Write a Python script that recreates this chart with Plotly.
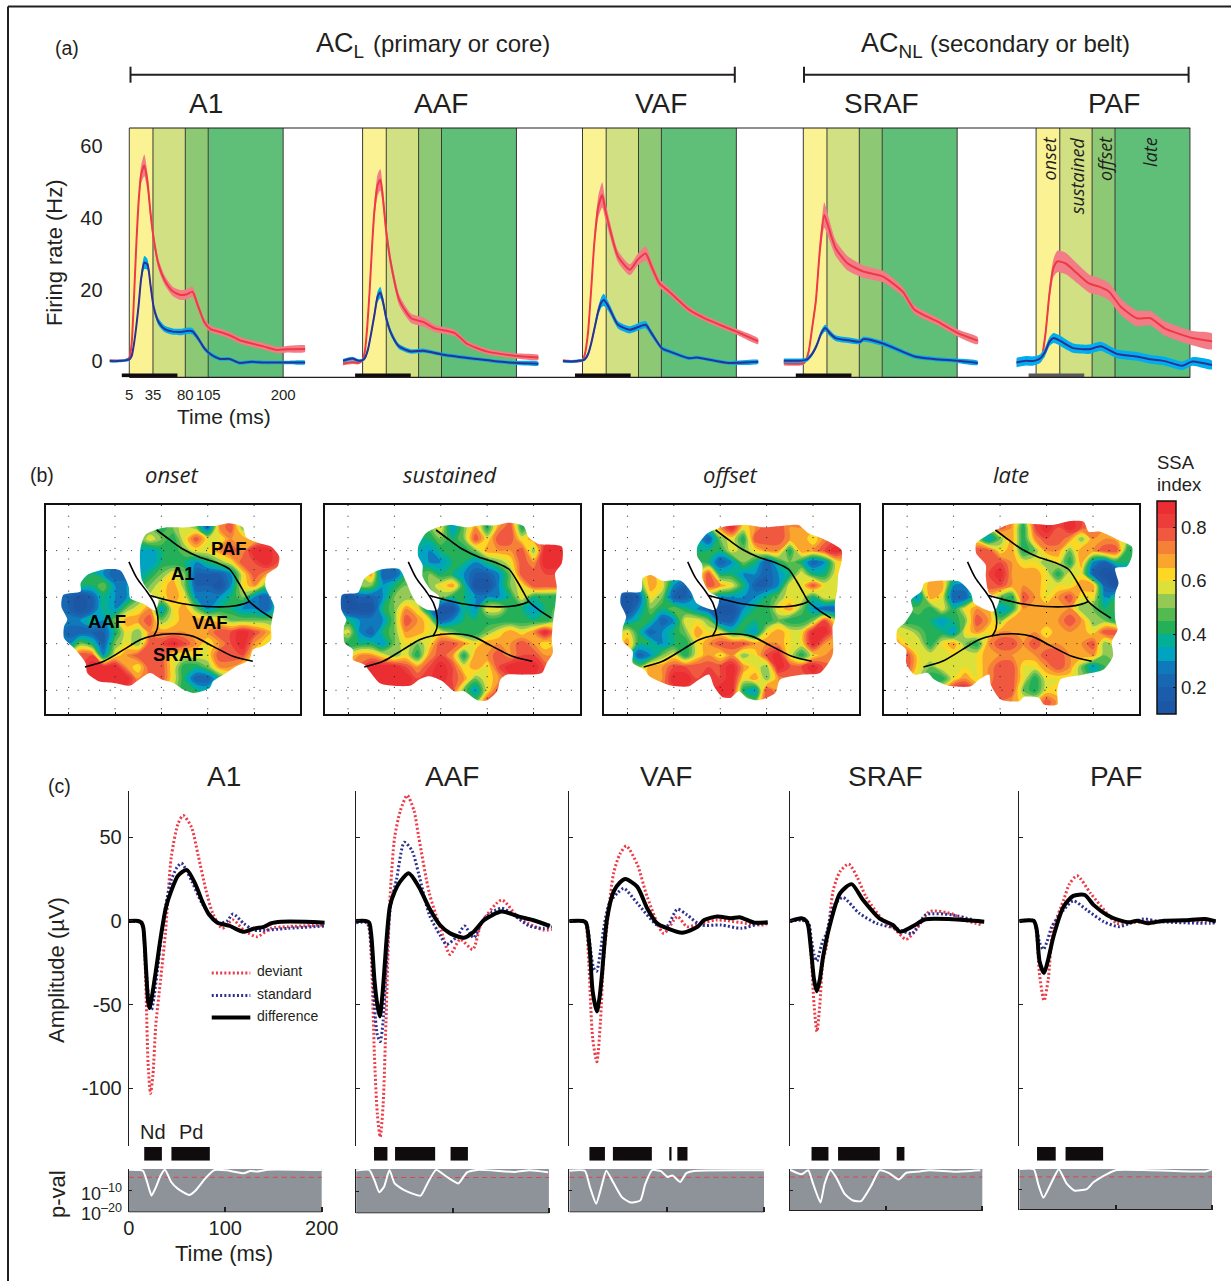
import numpy as np
import plotly.graph_objects as go

W, H = 1231, 1281
def px(x): return x / W
def py(y): return 1 - y / H

INK = "#231f20"
SANS = "Liberation Sans, Arial, sans-serif"
ITAL = "Open Sans, sans-serif"

# ---------- (a) firing rates: time (ms), value (Hz), half width of shading ----------
PANEL_A_NAMES = ["A1", "AAF", "VAF", "SRAF", "PAF"]
EPOCH_EDGES = [5, 35, 76, 105, 200]
EPOCH_NAMES = ["onset", "sustained", "offset", "late"]
EPOCH_TICKS = ["5", "35", "80", "105", "200"]
STIM_WINDOW = [-4.5, 66]

A1_DEV_T = [-20,-10,0,5,8,11,14,17,20,24,28,32,36,42,50,60,70,78,85,92,100,108,120,132,145,160,175,192,205,228]
A1_DEV_V = [.3,.2,.4,1,5,18,33,45,52,54.5,50,41,34,27,22.5,19.5,18.5,18.7,19.4,15.5,11,9,8.2,7.3,5.9,5,4.2,3.2,3.4,3.5]
A1_DEV_E = [.3,.3,.3,.3,.6,1,1.5,2,2.5,3,2.5,2,1.6,1.4,1.3,1.3,1.4,1.4,1.4,1.2,1,.9,.9,.9,.9,.9,.9,.9,.9,.9]
A1_STD_T = A1_DEV_T
A1_STD_V = [.1,.1,.3,.6,1.5,5,10,16,23,27.5,27,21,15,11,9,8.3,8.2,8.5,8.4,6.5,3.7,2,.7,.7,-.4,-.1,-.3,-.3,-.3,-.3]
A1_STD_E = [.4,.4,.4,.4,.4,.6,.9,1.2,1.5,1.8,1.5,1.2,1,1,.9,.9,.9,.9,.9,.8,.7,.6,.5,.5,.5,.5,.5,.5,.5,.5]

AAF_DEV_T = [-20,-8,0,5,8,11,14,17,20,24,27.5,31,35,41.6,51.6,66.6,81.6,96.6,121.7,136.8,162,197,228]
AAF_DEV_V = [-.6,-.2,-.4,.5,3,10,20,32,42,49,50.5,45,36,26.4,17,12,11,9.2,7.9,5,2.8,1.6,1.1]
AAF_DEV_E = [.5,.5,.4,.4,.6,1,1.5,2,2.5,3,3,2.5,2,1.7,1.5,1.3,1.3,1,.9,.8,.8,.7,.7]
AAF_STD_T = [-20,-8,0,5,8,12,16,20,24,27.5,31,35,41,51,66,82,107,149,190,228]
AAF_STD_V = [.2,.8,.2,.4,1,3.5,8,13,18,19.2,16.5,12,7.9,4.2,2.8,3,1.9,.7,-.3,-.6]
AAF_STD_E = [.5,.5,.4,.4,.5,.7,1,1.2,1.5,1.6,1.4,1.1,.9,.7,.6,.6,.5,.5,.5,.5]

VAF_DEV_T = [-20,-8,0,5,8,12,16,20,25,30,34,40,50,65,75,85,92.5,102.6,115,140,160,200,228]
VAF_DEV_V = [.2,0,.1,.4,2,8,20,33,43,46.3,42,36.6,29.2,25.5,28.3,30,26.4,21.7,19.4,14.4,12,8.3,5.6]
VAF_DEV_E = [.4,.4,.4,.4,.6,1,1.5,2,3,3.5,2.5,2,1.6,1.5,1.6,2,1.5,1.2,1,.9,.8,.8,.8]
VAF_STD_T = [-20,-8,0,5,8,12,16,20,25,29,32,36,40,50,65,85,92,105.5,115,140,150,190,228]
VAF_STD_V = [.1,0,.2,.3,.6,2,5,9,14,16.5,17.1,16,14.4,10.2,8.8,10.2,8,3.7,2.8,.9,1.1,-.4,-.1]
VAF_STD_E = [.4,.4,.4,.4,.4,.6,.8,1,1.3,1.5,1.7,1.4,1.2,1,1,1,.9,.6,.6,.5,.5,.5,.5]

SRAF_DEV_T = [-20,-8,0,5,8,12,16,21,26,31.6,36,46,61,81,106,131,146,176,201,226]
SRAF_DEV_V = [-.5,-.6,-.6,-.5,.2,3,9,17,31,40.7,38,31.5,27.3,25,23.6,19.4,14.4,11,7.9,5.8]
SRAF_DEV_E = [.6,.6,.6,.5,.5,.7,1,1.5,2.5,3.5,3,2.2,2,1.7,1.6,1.3,1.2,1,1,1]
SRAF_STD_T = [-20,-8,0,5,10,16,22,28,33,38,46,65,77,81,106,146,170,200,226]
SRAF_STD_V = [.2,.2,.2,.3,.6,2,4.5,8,9.3,8,6.5,5.8,5.5,6.2,5,1.4,.7,.2,-.4]
SRAF_STD_E = [.6,.6,.6,.6,.6,.6,.7,.9,1,.9,.8,.8,.7,.7,.7,.6,.6,.6,.6]

PAF_DEV_T = [-20,-8,0,5,9,12,17,22,27,32,42,57,72,85,97.5,112,132.6,150,168,203,228]
PAF_DEV_V = [-.3,.1,.1,.2,.3,1,7.9,19,26,27.8,27.3,24.5,21.7,20.8,19.4,15.3,12,12,9.2,6.5,5.6]
PAF_DEV_E = [1,1,1,.9,.8,1,1.5,2,2.5,3,3,2.7,2.5,2.4,2.4,2.3,2.2,2,2,2,2.2]
PAF_STD_T = [-20,-8,0,5,10,16,22,27,35,52,72,87,107.5,132.6,150,168,190,203,228]
PAF_STD_V = [-.3,.2,.1,.3,.8,2.5,5.5,6.5,5.8,3.7,3.4,4.2,2.1,1.4,.6,.1,-1.2,0,-1]
PAF_STD_E = [1.3,1.3,1.3,1.2,1.2,1.2,1.3,1.4,1.4,1.3,1.3,1.3,1.2,1.2,1.2,1.2,1.2,1.2,1.2]

# ---------- (b) SSA maps: one digit per grid node = index x 10, "." = off the cortex ----------
ONSET = [
".........45652785....",
"........6546866776...",
"........344566787998.",
"........344434568898.",
"...4322.45652223687..",
"..44533.56752213675..",
".212433..6763334532..",
".212435673675344332..",
".334357785677765555..",
".222246577777788987..",
".354256588987678976..",
"..8836788866668886...",
"...99976886445776....",
"....9997.864224......",
"...........44........",
".....................",
]
SUSTAINED = [
".........63574784....",
"........4545868867...",
"........344457778599.",
"........334434568799.",
"...7224.544322358888.",
"..55345.567411356888.",
".122355..54433346444.",
".111457631143664434..",
".433358762344444444..",
".632457766544567679..",
".444356568876777876..",
"..77656478747787887..",
"...999878986768999...",
"....9998.987567......",
"..........85368......",
"............58.......",
]
OFFSET = [
".........79678877....",
"........2564888776...",
".......4446567747789.",
"........423542454236.",
"...7....844332346446.",
"...7632.876422366866.",
".126522..33334566466.",
".1354543211344675322.",
".344236652244454458..",
".642345766443676699..",
".744344678887776697..",
"..23564676756896467..",
"...778888897659889...",
"....7998.896757......",
".........994387......",
"............58.......",
]
LATE = [
".........87489898....",
"........35747887577..",
".......88674577577884",
"........8876656473244",
"........897776466211.",
"...7733.887776667721.",
"..37622..54876786634.",
"..546467734777775544.",
".4443458757777787554.",
"66544367677776777688.",
"7664675478878777785..",
".866666677777887775..",
".86566667886678753...",
"...44676.886466......",
".....99..88546.......",
"..........7..8.......",
]
MAP_NAMES = ["onset", "sustained", "offset", "late"]

ONSET_EDGE_X = [345,375,410,470,505,555,600,640,650,690,725,750,745,712,708,735,730,725,725,700,670,660,620,590,550,540,490,460,430,395,360,320,300,250,205,170,165,135,100,100,110,92,98,150,150,170,225,270,295,300,340,375,385,360,335,330]
ONSET_EDGE_Y = [255,240,232,232,228,228,220,232,262,280,290,320,350,375,410,470,500,530,570,590,600,630,650,670,695,715,730,720,700,690,670,695,708,700,695,670,640,600,565,530,510,470,435,425,400,375,358,362,410,445,462,482,450,430,390,300]
SUSTAINED_EDGE_X = [322,345,380,420,470,510,555,595,640,655,685,755,755,735,740,735,730,725,728,710,695,640,590,570,560,530,500,460,430,395,355,325,300,240,205,175,160,125,125,100,98,105,90,92,140,160,205,265,285,300,318,350,380,385,360,335,335,322]
SUSTAINED_EDGE_Y = [290,250,232,225,232,226,226,218,228,262,282,290,340,370,410,470,505,570,610,640,670,675,675,690,725,752,752,725,725,695,680,690,708,708,700,665,645,630,600,580,530,510,480,435,428,385,360,358,395,430,460,480,480,440,420,380,345,320]
OFFSET_EDGE_X = [320,350,400,470,520,570,625,655,695,735,755,755,745,742,735,735,728,728,690,640,570,555,505,470,445,420,395,370,355,325,295,240,175,160,125,125,95,95,105,88,92,150,155,180,215,270,300,318,375,385,355,335,335,320]
OFFSET_EDGE_Y = [290,250,230,225,232,228,225,250,265,285,300,335,375,420,460,510,530,615,670,675,690,730,752,745,725,745,742,710,675,690,710,708,680,660,640,605,575,535,500,460,430,425,385,375,393,393,425,460,480,445,425,385,345,320]
LATE_EDGE_X = [316,340,380,420,490,545,600,640,655,690,745,785,785,770,735,745,735,735,742,725,728,700,640,570,560,560,520,505,460,445,390,360,355,325,300,230,190,170,130,105,105,78,78,100,125,120,150,160,215,265,300,310,370,385,355,345,345,316]
LATE_EDGE_Y = [280,262,238,222,222,225,213,215,245,245,270,290,320,350,355,400,430,510,540,575,620,660,675,690,725,765,765,745,742,755,750,705,675,690,710,708,690,670,675,640,600,575,540,520,480,450,425,400,392,395,430,460,485,445,430,380,345,310]

BORDER_A_X = [380,420,460,510,560,600,625,645,660,690,728]
BORDER_A_Y = [240,270,298,322,338,358,395,430,455,480,505]
BORDER_B_X = [360,400,460,530,600,640,660]
BORDER_B_Y = [437,448,462,470,470,463,455]
BORDER_C_X = [296,320,350,372,383,382,370]
BORDER_C_Y = [336,385,425,460,500,535,560]
BORDER_D_X = [163,220,280,330,370,430,490,550,610,670]
BORDER_D_Y = [652,635,600,570,558,552,560,590,620,635]
FIELD_LABELS = ["PAF", "A1", "AAF", "VAF", "SRAF"]
FIELD_LABEL_X = [597,460,230,540,443]
FIELD_LABEL_Y = [295,372,515,517,615]

COLORBAR_TICKS = [0.2, 0.4, 0.6, 0.8]

# ---------- (c) evoked potentials ----------
A1_ERP_DEV_T = [0,10,14,16,18,20,22.5,25,28,33,38,44,51,56.4,65,72,80,87,97,108,119,133,147,165,203]
A1_ERP_DEV_V = [0,0,-1,-12,-45,-85,-103,-92,-62,-35,-7,38,58,63,56,39,18.5,4.6,-4.4,.6,-5.4,-9.4,-4.4,-3.4,-2.4]
A1_ERP_STD_T = [0,10,14,16,18,21,23.6,26,30,34,38.5,44,50,54.6,65,76,92,102,108,119,130,165,203]
A1_ERP_STD_V = [0,-.5,-2,-12,-30,-47,-53,-46,-28,-8,10,24.5,32,34.5,24,10.5,-1.4,0,4.2,-1.4,-5.4,-4.4,-3]
A1_ERP_DIF_T = [0,10,13,15,18,20,21.4,24,28,33,38.5,44,51,60,69,76,83,92,105,112,119,130,140,147,158,183,203]
A1_ERP_DIF_V = [0,0,-1,-4,-30,-48,-52,-45,-30,-10,8,18,27,30.5,22,12,4,-1,-3,-5,-6.5,-4.5,-3.5,-1.5,-.5,-.5,-1]

AAF_ERP_DEV_T = [0,10,13,16,19,22,25,28,31,35,40,46,53,60,65,76,87,97.5,108,121,130,151,169,195,203]
AAF_ERP_DEV_V = [0,-.5,-3,-25,-80,-115,-129,-110,-60,12,50,66,75,66,50,16.5,-3.4,-20,-11,-17,-1.4,12.5,1.6,-5.4,-5]
AAF_ERP_STD_T = [0,10,13,16,19,22,25,28,31,36,42,50,58,65,76,87,94,105,112.5,122,133,151,180,195,203]
AAF_ERP_STD_V = [-1,-1,-3,-18,-50,-68,-72,-60,-30,10,25,47,42,28,3.6,-8.4,-14,-9,-3,-10,1.6,7.6,-3,-4.4,-3.4]
AAF_ERP_DIF_T = [0,10,13.6,16,19,22,24.6,27,29.6,32,35,40,45.7,54.6,65,76,87,97.5,112,122,133,151,169,183,201]
AAF_ERP_DIF_V = [0,0,-1,-10,-35,-50,-57,-46,-27,-8,8.6,17.5,23.5,28.5,20.5,7.6,-2.4,-7.4,-10,-6.4,.6,5.6,2.6,.6,-3]

VAF_ERP_DEV_T = [0,14,17,20,24,28.3,32,35,38.6,45.5,52,58.6,70,80,97,111,121,135,152,197,204]
VAF_ERP_DEV_V = [0,0,-2,-25,-70,-84,-60,-25,-3.4,28.5,40,44.8,33.5,14.5,-7.4,2.6,-3.4,-1.4,.6,-2.4,-1.5]
VAF_ERP_STD_T = [0,14,18,22,25,28,32,36,41,50,56,70,90,100,111,121,135,156,177,197,204]
VAF_ERP_STD_V = [0,0,-2,-18,-28,-30,-18,-2,10.5,17,19.5,10.5,-2.4,-3.4,7,3.6,-2.4,-2.4,-4.4,-1.4,-1.5]
VAF_ERP_DIF_T = [0,14,17.2,21,24,28.3,31,33.4,38.6,45.5,52,57.6,69.7,80,90,100.7,116,132,138.6,152,166,175,190,204]
VAF_ERP_DIF_V = [0,0,-1,-17,-42,-54,-46,-33,.6,17.5,23,25,20.5,7.6,-1.4,-4.4,-7,-3.4,.6,2.6,1.6,2.2,-1,-.8]

SRAF_ERP_DEV_T = [0,12,19,22,25,28,31,34,38,45,52,61,70,79,96.5,110,120.7,131,145,169,179,200]
SRAF_ERP_DEV_V = [0,.5,-1,-20,-50,-66,-50,-25,-15,18.5,29.5,34,26,14.5,.6,-5.4,-11,-5.4,5.6,4.2,1,-2.4]
SRAF_ERP_STD_T = [0,12,19,22,25,28,31,34,38,45,55,72,90,110,127,141,169,200]
SRAF_ERP_STD_V = [0,.5,-1,-10,-20,-24,-18,-12,-7.4,8.6,14,4.6,-1.4,-4.4,-7.4,3.6,3.6,-1]
SRAF_ERP_DIF_T = [0,12,17,19,22,25,28,31,34.5,41,52,64,76,93,107,114.5,127,141,169,202]
SRAF_ERP_DIF_V = [0,1.6,0,-3,-18,-35,-42,-35,-21,-3.4,16.5,22,12.5,1.6,-2.4,-6.4,-3.4,1,1,-.4]

PAF_ERP_DEV_T = [0,15,18,21,25.7,30,35,46,52,60,74,91,101,111,150,204]
PAF_ERP_DEV_V = [0,0,-8,-32,-47.6,-35,-5.4,12.5,22,27,16.5,4.6,-1.4,-1,0,0]
PAF_ERP_STD_T = [0,15,18,21,25,29,33.7,46,56,70,87.5,103,115,129,146,198,204]
PAF_ERP_STD_V = [0,0,-4,-13,-17,-12,-3.4,6.6,12,6.6,-.4,-3.4,-1.4,1.2,-.4,-1.4,-1]
PAF_ERP_DIF_T = [0,15,18,21,25.7,30,35.4,46,56,68,77,91,101,115,122,133,150,171,193,204]
PAF_ERP_DIF_V = [0,0,-5,-24,-31,-23,-9.4,8.6,15,15.5,9.6,3.6,1,-.8,.2,-1.4,.2,.4,1.2,-.2]

A1_SIG_START = [16, 44.2];                AAF_SIG_START = [18.6, 40.4, 98]
A1_SIG_END = [34.3, 84];                  AAF_SIG_END = [32.5, 82, 116]
VAF_SIG_START = [20.7, 44.8, 103, 111];   SRAF_SIG_START = [22.4, 50, 111]
VAF_SIG_END = [36.6, 84.8, 105, 121.4];   SRAF_SIG_END = [40, 93.4, 119]
PAF_SIG_START = [18.4, 48]
PAF_SIG_END = [37.8, 87]

P_THRESHOLD_EXP = -3.84
A1_P_T = [0,12,15,19,23.6,28,33,37.5,44,51,62.5,69,80,88.6,101,119,126,133,144,200]
A1_P_E = [-.3,-.5,-1,-6,-12.3,-8.5,-3,-.3,-6,-9.2,-12,-10,-4,-.5,-.6,-2,-.9,-1.2,-.3,-.5]
AAF_P_T = [0,13.6,19,24,29,34.6,40,51,67,74,83,94,106,115,126,165,180,199]
AAF_P_E = [-.7,-.4,-5,-10.5,-8,-.5,-6.5,-9.8,-12,-6.5,-.4,-3.5,-6.5,-1.5,-.4,-1.3,-.6,-1.5]
VAF_P_T = [0,16,21,27.6,33.4,38,45.5,54,63,73,78,85,94,101,106,114,120,128,200]
VAF_P_E = [-.8,-.8,-8,-16,-7.5,-.8,-6.5,-13,-15.5,-14.5,-7,-.5,-1,-3.7,-3,-6,-2,-.9,-.6]
SRAF_P_T = [0,12,19,24,31.7,36,42,48,57,65.5,74,84.5,93,103,113,121,135,145,172,198]
SRAF_P_E = [-.4,-2.5,-.6,-7,-16,-7,-.5,-4,-12,-15,-15.3,-8,-.7,-2,-5,-1.8,-1.2,-.6,-1.3,-.6]
PAF_P_T = [0,15,20,25,34,41,49,57,70,77,91,101,129,193,200]
PAF_P_E = [0,-.1,-8,-14,-6,-.1,-7,-10.5,-9.8,-6.5,-2.5,-.5,-.5,-1.2,-.2]

LEGEND_NAMES = ["deviant", "standard", "difference"]
LEGEND_T = [86, 126]
LEGEND_V = [-31, -44.5, -57.7]
PANEL_C_TICKS = [0, 100, 200]
AMP_TICKS = [50, 0, -50, -100]
AMP_LABELS = ["50", "0", "-50", "-100"]

# ---------- styles ----------
RED, BLUE = "#ee3a47", "#2e3192"
RED_BAND, BLUE_BAND = "#f37d86", "#00aeef"
EPOCH_COLORS = ["#fbf393", "#d0e082", "#8dc975", "#5fbe78"]
CS_Z = [.10,.20,.27,.32,.37,.42,.47,.52,.57,.60,.63,.68,.72,.76,.80,.90]
CS_C = ["#1c54a3","#1a5fad","#1174bb","#00a3c4","#00b09b","#1fae5a","#4db84e","#8cc759",
        "#d7df3d","#f7e928","#ffd324","#f9a02f","#f58537","#f26340","#ef4540","#e8262c"]
COLORSCALE = [[(z - .1) / .8, c] for z, c in zip(CS_Z, CS_C)]

fig = go.Figure()
layout = {}
shapes = []
ann = []

def text(x, y, s, size, **kw):
    anchor = kw.pop("xanchor", "center")
    if anchor == "left":
        x -= 2
    d = dict(x=px(x), y=py(y), xref="paper", yref="paper", text=s, showarrow=False,
             xanchor=anchor, yanchor="middle",
             font=dict(family=kw.pop("family", SANS), size=size, color=INK))
    d.update(kw)
    ann.append(d)

def pline(x0, y0, x1, y1, w=1.2, color=INK):
    shapes.append(dict(type="line", xref="paper", yref="paper", x0=px(x0), x1=px(x1),
                       y0=py(y0), y1=py(y1), line=dict(color=color, width=w)))

# ---- outer frame, headers ----
pline(8, 6.5, W, 6.5, 2)
pline(8, 6.5, 8, H, 2)
text(55, 48, "(a)", 19.5, xanchor="left")
text(30, 475, "(b)", 19.5, xanchor="left")
text(48, 786, "(c)", 19.5, xanchor="left")
text(316, 45, "AC<sub>L</sub>", 27, xanchor="left")
text(373, 43.5, "(primary or core)", 24, xanchor="left")
text(861, 45, "AC<sub>NL</sub>", 27, xanchor="left")
text(930, 43.5, "(secondary or belt)", 24, xanchor="left")
for a, b in [(130.5, 734.8), (804, 1188.6)]:
    pline(a, 74.7, b, 74.7, 2)
    pline(a, 66.7, a, 82.7, 2)
    pline(b, 66.7, b, 82.7, 2)

# ---- (a) ----
A_LEFT = [129.3, 362.6, 582.5, 803.3, 1036.1]
A_TITLE_X = [205.6, 440.5, 660.7, 881.3, 1114]
A_SCALE = 0.789
A_TOP, A_BOT = 128, 377.3
A_YR = [-4.4, 64.9]
A_SERIES = [
    (A1_DEV_T, A1_DEV_V, A1_DEV_E, A1_STD_T, A1_STD_V, A1_STD_E),
    (AAF_DEV_T, AAF_DEV_V, AAF_DEV_E, AAF_STD_T, AAF_STD_V, AAF_STD_E),
    (VAF_DEV_T, VAF_DEV_V, VAF_DEV_E, VAF_STD_T, VAF_STD_V, VAF_STD_E),
    (SRAF_DEV_T, SRAF_DEV_V, SRAF_DEV_E, SRAF_STD_T, SRAF_STD_V, SRAF_STD_E),
    (PAF_DEV_T, PAF_DEV_V, PAF_DEV_E, PAF_STD_T, PAF_STD_V, PAF_STD_E),
]
layout["yaxis"] = dict(domain=[py(A_BOT), py(A_TOP)], range=A_YR, anchor="x",
                       tickvals=[0, 20, 40, 60], showgrid=False, zeroline=False, showline=False,
                       ticks="outside", ticklen=2, tickcolor="rgba(0,0,0,0)",
                       tickfont=dict(family=SANS, size=20, color=INK))

def band(t, v, e, color, line, xa, ya):
    t, v, e = list(t), np.array(v, float), np.array(e, float)
    fig.add_trace(go.Scatter(x=t + t[::-1], y=list(v + e) + list((v - e)[::-1]), mode="lines",
                             fill="toself", fillcolor=color, line=dict(width=0, shape="spline", smoothing=.6),
                             hoverinfo="skip", showlegend=False, xaxis=xa, yaxis=ya))
    fig.add_trace(go.Scatter(x=t, y=v, mode="lines", line=dict(color=line, width=2, shape="spline", smoothing=.6),
                             showlegend=False, xaxis=xa, yaxis=ya))

for i, (name, x5, s) in enumerate(zip(PANEL_A_NAMES, A_LEFT, A_SERIES)):
    n = "" if i == 0 else str(i + 1)
    xa = "x" + n
    lo = x5 + (-20 - 5) * A_SCALE
    hi = x5 + (228 - 5) * A_SCALE
    ax = dict(domain=[px(lo), px(hi)], range=[-20, 228], anchor="y", showgrid=False, zeroline=False,
              showline=False, showticklabels=False, ticks="")
    if i == 0:
        ax.update(tickvals=EPOCH_EDGES, ticktext=EPOCH_TICKS, showticklabels=True, ticks="outside", ticklen=4,
                  tickcolor="rgba(0,0,0,0)", tickfont=dict(family=SANS, size=15, color=INK))
    layout["xaxis" + n] = ax
    for j in range(4):
        shapes.append(dict(type="rect", xref=xa, yref="y", x0=EPOCH_EDGES[j], x1=EPOCH_EDGES[j + 1],
                           y0=A_YR[0], y1=A_YR[1], fillcolor=EPOCH_COLORS[j], line=dict(width=0), layer="below"))
    for e_ in EPOCH_EDGES:
        shapes.append(dict(type="line", xref=xa, yref="y", x0=e_, x1=e_, y0=A_YR[0], y1=A_YR[1],
                           line=dict(color="#3a3a36", width=1), layer="below"))
    band(s[0], s[1], s[2], RED_BAND, RED, xa, "y")
    band(s[3], s[4], s[5], BLUE_BAND, BLUE, xa, "y")
    fig.add_trace(go.Scatter(x=STIM_WINDOW, y=[-3.9, -3.9], mode="lines", cliponaxis=False,
                             line=dict(color="#58595b" if name == "PAF" else "#100c0d", width=4),
                             showlegend=False, xaxis=xa, yaxis="y"))
    text(A_TITLE_X[i], 104, name, 28)
pline(129.3, A_TOP, 1190.2, A_TOP)
pline(129.3, A_BOT, 1190.2, A_BOT)

text(54.6, 252.5, "Firing rate (Hz)", 22, textangle=-90)
text(224, 416.7, "Time (ms)", 21)
for nm, xx, yy in zip(EPOCH_NAMES, [1048.8, 1077.3, 1105, 1149.4], [158.7, 176, 159, 151.5]):
    text(xx, yy, f"<i>{nm}</i>", 18, family=ITAL, textangle=-90)

# ---- (b) ----
M_LEFT = [45.5, 324.8, 604.2, 883.9]
M_RIGHT = [300, 579.5, 859, 1139]
M_TITLE_X = [172, 450, 730, 1011]
M_GRID_X = [114, 110, 109, 108]     # crop position of the first grid column in each map
M_DATA = [ONSET, SUSTAINED, OFFSET, LATE]
M_EDGES = [(ONSET_EDGE_X, ONSET_EDGE_Y), (SUSTAINED_EDGE_X, SUSTAINED_EDGE_Y),
           (OFFSET_EDGE_X, OFFSET_EDGE_Y), (LATE_EDGE_X, LATE_EDGE_Y)]
GX = [0.6] + [0.75 + .25 * k for k in range(21)] + [5.95]
GY = [0.1] + [0.5 + .25 * k for k in range(16)] + [4.45]
XR, YR = [0.5, 5.99], [4.5, 0.02]
def ux(v, g=114): return 1 + (np.array(v, float) - g) / 140
def uy(v): return 1 + (np.array(v, float) - 302) / 140

for m in range(4):
    xa, ya = f"x{6 + m}", f"y{2 + m}"
    layout[f"xaxis{6 + m}"] = dict(domain=[px(M_LEFT[m]), px(M_RIGHT[m])], range=XR, anchor=ya, showgrid=False,
                                   zeroline=False, showline=True, mirror=True, linecolor="#111", linewidth=1.5,
                                   tickvals=[1, 2, 3, 4, 5], ticks="inside", ticklen=2, tickcolor="#111",
                                   showticklabels=False)
    layout[f"yaxis{2 + m}"] = dict(domain=[py(713.5), py(505)], range=YR, anchor=xa, showgrid=False,
                                   zeroline=False, showline=True, mirror=True, linecolor="#111", linewidth=1.5,
                                   tickvals=[1, 2, 3, 4], ticks="inside", ticklen=2, tickcolor="#111",
                                   showticklabels=False)
    z = np.full((18, 23), np.nan)
    for r, row in enumerate(M_DATA[m]):
        for c, ch in enumerate(row):
            if ch != ".":
                z[r + 1, c + 1] = int(ch) / 10
    cb = dict(x=px(1156.7), xanchor="left", y=py(714), yanchor="bottom", len=213 / H, lenmode="fraction",
              thickness=19, thicknessmode="pixels", outlinewidth=1.5, outlinecolor="#111",
              tickvals=COLORBAR_TICKS, ticktext=["0.2", "0.4", "0.6", "0.8"], ticks="inside", ticklen=3,
              tickcolor="#111", tickfont=dict(family=SANS, size=18.5, color=INK), xpad=0, ypad=0)
    fig.add_trace(go.Contour(x=GX, y=GY, z=z.tolist(), connectgaps=True, colorscale=COLORSCALE, zmin=.1, zmax=.9,
                             autocontour=False, contours=dict(coloring="fill", showlines=False, start=.1, end=.9, size=.05),
                             line=dict(width=0), showscale=(m == 3), colorbar=cb if m == 3 else None,
                             hoverinfo="skip", xaxis=xa, yaxis=ya))
    ex, ey = M_EDGES[m]
    ex_u, ey_u = list(ux(ex, M_GRID_X[m])), list(uy(ey))
    fig.add_trace(go.Scatter(x=[-.2, 6.8, 6.8, -.2, -.2, None] + ex_u[::-1] + [ex_u[-1]],
                             y=[-.5, -.5, 5, 5, -.5, None] + ey_u[::-1] + [ey_u[-1]],
                             mode="lines", fill="toself", fillcolor="white",
                             line=dict(width=0, shape="spline", smoothing=.7),
                             hoverinfo="skip", showlegend=False, xaxis=xa, yaxis=ya))
    for bx, by in [(BORDER_A_X, BORDER_A_Y), (BORDER_B_X, BORDER_B_Y), (BORDER_C_X, BORDER_C_Y), (BORDER_D_X, BORDER_D_Y)]:
        fig.add_trace(go.Scatter(x=list(ux(bx)), y=list(uy(by)), mode="lines",
                                 line=dict(color="black", width=1.6, shape="spline", smoothing=.8),
                                 hoverinfo="skip", showlegend=False, xaxis=xa, yaxis=ya))
    for k in [1, 2, 3, 4, 5]:
        shapes.append(dict(type="line", xref=xa, yref=ya, x0=k, x1=k, y0=YR[1], y1=YR[0],
                           line=dict(color="#222", width=1, dash="1px,9.7px")))
    for k in [1, 2, 3, 4]:
        shapes.append(dict(type="line", xref=xa, yref=ya, x0=XR[0], x1=XR[1], y0=k, y1=k,
                           line=dict(color="#222", width=1, dash="1px,9.7px")))
    text(M_TITLE_X[m], 474, f"<i>{MAP_NAMES[m]}</i>", 22, family=ITAL)
    if m == 0:
        for lb, lx, ly in zip(FIELD_LABELS, FIELD_LABEL_X, FIELD_LABEL_Y):
            ann.append(dict(x=float(ux(lx)), y=float(uy(ly)), xref=xa, yref=ya, text=f"<b>{lb}</b>", showarrow=False,
                            font=dict(family=SANS, size=18.5, color="black")))
text(1157, 463, "SSA", 18.5, xanchor="left")
text(1157, 485, "index", 18.5, xanchor="left")

# ---- (c) ----
C_NAMES = ["A1", "AAF", "VAF", "SRAF", "PAF"]
C_LEFT = [128.8, 356.1, 569.3, 790, 1019.3]
C_T200 = [321.7, 548.9, 764, 982.3, 1212]
C_TITLE_X = [223.9, 452, 666, 885, 1116]
C_P_BOT = [1212.3, 1213.3, 1212.3, 1211, 1210]
C_SERIES = [
    (A1_ERP_DEV_T, A1_ERP_DEV_V, A1_ERP_STD_T, A1_ERP_STD_V, A1_ERP_DIF_T, A1_ERP_DIF_V),
    (AAF_ERP_DEV_T, AAF_ERP_DEV_V, AAF_ERP_STD_T, AAF_ERP_STD_V, AAF_ERP_DIF_T, AAF_ERP_DIF_V),
    (VAF_ERP_DEV_T, VAF_ERP_DEV_V, VAF_ERP_STD_T, VAF_ERP_STD_V, VAF_ERP_DIF_T, VAF_ERP_DIF_V),
    (SRAF_ERP_DEV_T, SRAF_ERP_DEV_V, SRAF_ERP_STD_T, SRAF_ERP_STD_V, SRAF_ERP_DIF_T, SRAF_ERP_DIF_V),
    (PAF_ERP_DEV_T, PAF_ERP_DEV_V, PAF_ERP_STD_T, PAF_ERP_STD_V, PAF_ERP_DIF_T, PAF_ERP_DIF_V),
]
C_SIG = [(A1_SIG_START, A1_SIG_END), (AAF_SIG_START, AAF_SIG_END), (VAF_SIG_START, VAF_SIG_END),
         (SRAF_SIG_START, SRAF_SIG_END), (PAF_SIG_START, PAF_SIG_END)]
C_P = [(A1_P_T, A1_P_E), (AAF_P_T, AAF_P_E), (VAF_P_T, VAF_P_E), (SRAF_P_T, SRAF_P_E), (PAF_P_T, PAF_P_E)]
XMAX = 204
DOT = "2px,2.2px"

for i in range(5):
    xn = 10 + i
    ym, ys, yp = 6 + 3 * i, 7 + 3 * i, 8 + 3 * i
    xa = f"x{xn}"
    s = (C_T200[i] - C_LEFT[i]) / 200
    ax = dict(domain=[px(C_LEFT[i]), px(C_LEFT[i] + XMAX * s)], range=[0, XMAX], anchor=f"y{yp}", showgrid=False,
              zeroline=False, showline=False, tickvals=PANEL_C_TICKS, ticks="inside", ticklen=5, tickwidth=1.5,
              tickcolor=INK, showticklabels=(i == 0), ticklabelstandoff=2, tickfont=dict(family=SANS, size=20, color=INK))
    layout[f"xaxis{xn}"] = ax
    main = dict(domain=[py(1145.7), py(790.7)], range=[-134.2, 77.8], anchor=xa, showgrid=False, zeroline=False,
                showline=True, linecolor=INK, linewidth=1.2, tickvals=AMP_TICKS, ticktext=AMP_LABELS, ticks="inside", ticklen=4,
                tickcolor=INK, showticklabels=(i == 0), ticklabelstandoff=2, tickfont=dict(family=SANS, size=20, color=INK))
    layout[f"yaxis{ym}"] = main
    layout[f"yaxis{ys}"] = dict(domain=[py(1160.7), py(1147)], range=[-.5, .5], anchor=xa, visible=False)
    pax = dict(domain=[py(C_P_BOT[i]), py(1169)], range=[-20, 0], anchor=xa, showgrid=False, zeroline=False,
               showline=True, linecolor=INK, linewidth=1.2, tickvals=[-10, -20],
               ticks="inside", ticklen=3, tickcolor=INK, showticklabels=False)
    layout[f"yaxis{yp}"] = pax
    d = C_SERIES[i]
    fig.add_trace(go.Scatter(x=d[0], y=d[1], mode="lines", line=dict(color=RED, width=3, dash=DOT, shape="spline", smoothing=.7),
                             showlegend=False, xaxis=xa, yaxis=f"y{ym}"))
    fig.add_trace(go.Scatter(x=d[2], y=d[3], mode="lines", line=dict(color=BLUE, width=3, dash=DOT, shape="spline", smoothing=.7),
                             showlegend=False, xaxis=xa, yaxis=f"y{ym}"))
    fig.add_trace(go.Scatter(x=d[4], y=d[5], mode="lines", line=dict(color="black", width=4, shape="spline", smoothing=.7),
                             showlegend=False, xaxis=xa, yaxis=f"y{ym}"))
    st, en = C_SIG[i]
    fig.add_trace(go.Bar(y=[0] * len(st), x=[b - a for a, b in zip(st, en)], base=st, orientation="h", width=1,
                         marker=dict(color="#100c0d", line=dict(width=0)), showlegend=False, xaxis=xa, yaxis=f"y{ys}"))
    shapes.append(dict(type="rect", xref=xa, yref=f"y{yp}", x0=0, x1=200, y0=-20, y1=0, fillcolor="#8e9299",
                       line=dict(width=0), layer="below"))
    shapes.append(dict(type="line", xref=xa, yref=f"y{yp}", x0=0, x1=200, y0=-20, y1=-20, line=dict(color=INK, width=1.8)))
    fig.add_trace(go.Scatter(x=[0, 200], y=[P_THRESHOLD_EXP] * 2, mode="lines",
                             line=dict(color="#e8404a", width=1, dash="5px,4px"), showlegend=False, xaxis=xa, yaxis=f"y{yp}"))
    fig.add_trace(go.Scatter(x=C_P[i][0], y=C_P[i][1], mode="lines", line=dict(color="white", width=2, shape="spline", smoothing=.5),
                             showlegend=False, xaxis=xa, yaxis=f"y{yp}", cliponaxis=True))
    text(C_TITLE_X[i], 776, C_NAMES[i], 28)

for k, (nm, col, wd, dash) in enumerate(zip(LEGEND_NAMES, [RED, BLUE, "black"], [3, 3, 4], [DOT, DOT, None])):
    fig.add_trace(go.Scatter(x=LEGEND_T, y=[LEGEND_V[k]] * 2, mode="lines", line=dict(color=col, width=wd, dash=dash),
                             showlegend=False, xaxis="x10", yaxis="y6"))
    text(256.6, 971 + 22.5 * k, nm, 14, xanchor="left")

text(153.3, 1131.7, "Nd", 20)
text(190.5, 1131.7, "Pd", 20)
text(57, 970, "Amplitude (µV)", 22, textangle=-90)
text(57, 1194, "p-val", 22, textangle=-90)
text(223.7, 1253, "Time (ms)", 22)
text(124, 1192, "10<sup>–10</sup>", 18, xanchor="right")
text(124, 1212, "10<sup>–20</sup>", 18, xanchor="right")

fig.update_layout(width=W, height=H, margin=dict(l=0, r=0, t=0, b=0, autoexpand=False), paper_bgcolor="white", plot_bgcolor="rgba(0,0,0,0)",
                  barmode="overlay", showlegend=False, shapes=shapes, annotations=ann, font=dict(family=SANS), **layout)
fig.write_html("out.html", config=dict(displayModeBar=False),
               post_script="document.body.style.margin='0';")
